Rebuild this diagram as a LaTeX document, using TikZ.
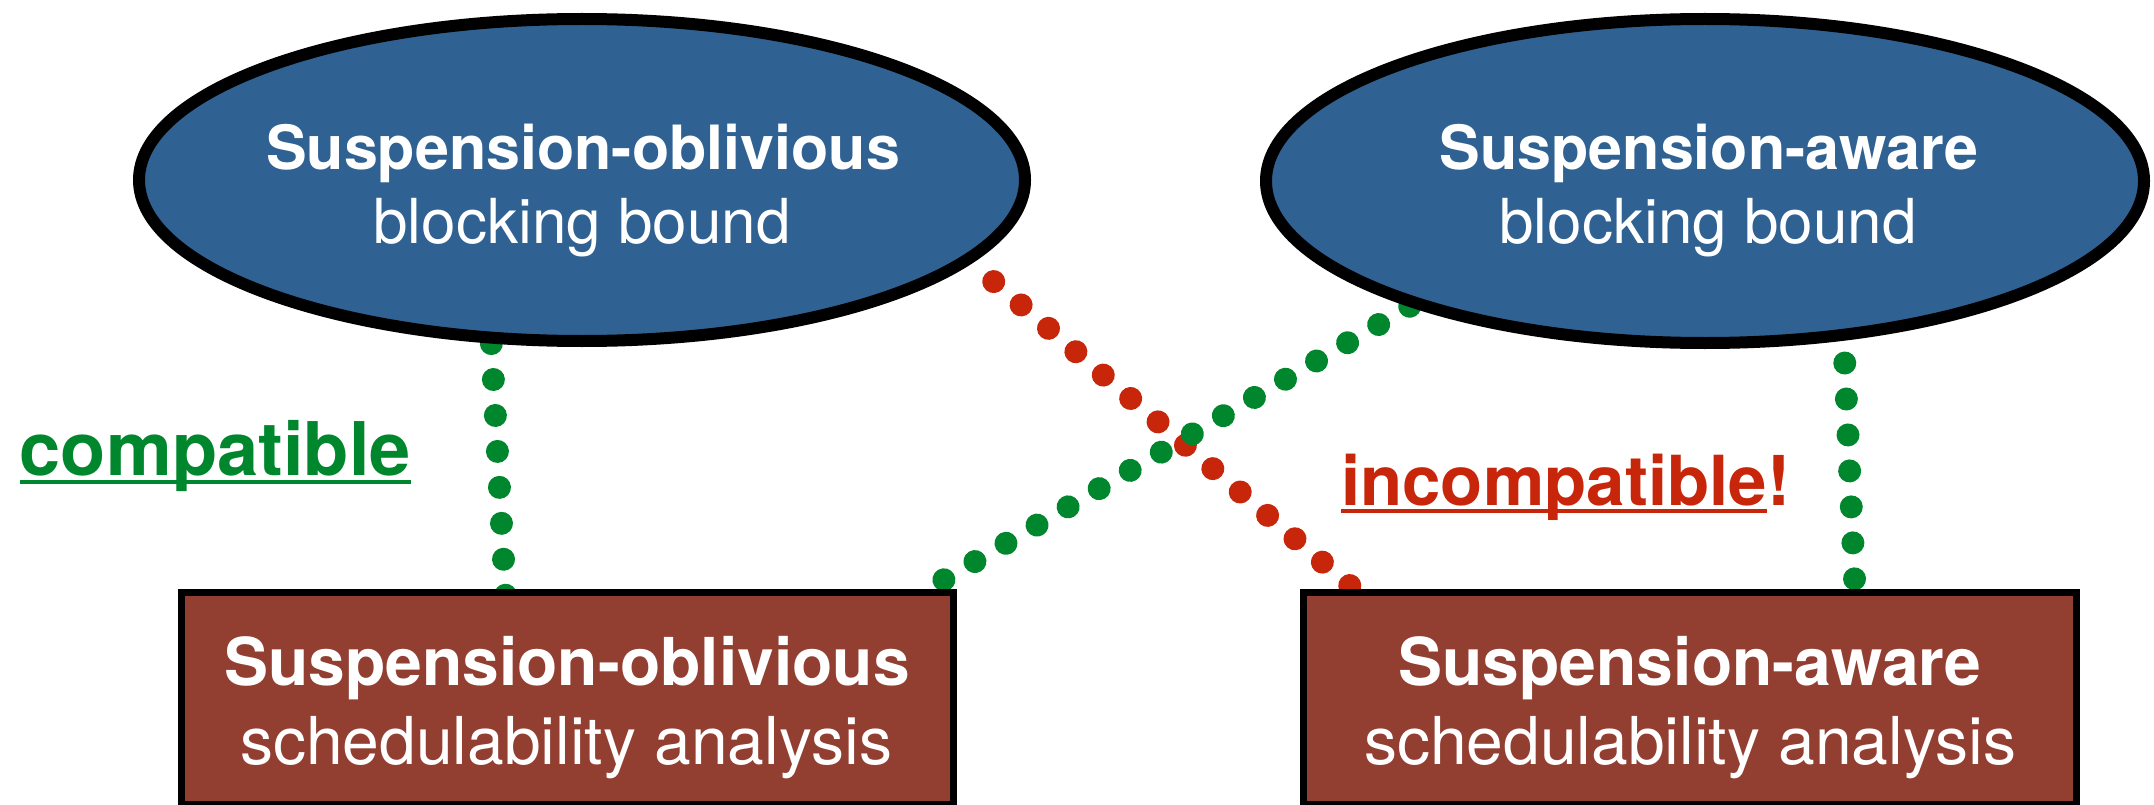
\documentclass[tikz,border=0pt]{standalone}
\usepackage{fontspec}
\setmainfont{TeX Gyre Heros}
\usetikzlibrary{calc,backgrounds,shapes.geometric}
\definecolor{ellblue}{RGB}{47,98,146}
\definecolor{boxred}{RGB}{146,63,50}
\definecolor{okgreen}{RGB}{0,135,45}
\definecolor{badred}{RGB}{200,38,10}
\begin{document}
\begin{tikzpicture}[x=1pt,y=-1pt,
  blob/.style={ellipse,draw=black,line width=12pt,fill=ellblue,inner sep=0pt},
  boxnode/.style={rectangle,draw=black,line width=7pt,fill=boxred,inner sep=0pt,minimum width=772pt,minimum height=212pt},
  headE/.style={anchor=base,inner sep=0pt,text=white,font=\fontsize{61}{70}\selectfont\bfseries},
  subE/.style={anchor=base,inner sep=0pt,text=white,font=\fontsize{62}{70}\selectfont},
  headB/.style={anchor=base,inner sep=0pt,text=white,font=\fontsize{66}{75}\selectfont\bfseries},
  subB/.style={anchor=base,inner sep=0pt,text=white,font=\fontsize{66}{75}\selectfont},
  dotline/.style={line width=23pt,line cap=round,dash pattern=on 0.01pt off 36pt},
  lab/.style={anchor=base west,inner sep=0pt,font=\fontsize{#1}{#1}\selectfont\bfseries},
]
\useasboundingbox (0,0) rectangle (2154,805);
\clip (0,0) rectangle (2154,805);

% shapes
\node[blob,minimum width=886pt,minimum height=322pt] (e1) at (582,180) {};
\node[blob,minimum width=878pt,minimum height=324pt] (e2) at (1705,181) {};
\node[boxnode] (b1) at (567.5,698.5) {};
\node[boxnode,minimum width=773pt] (b2) at (1690,698.5) {};

% texts
\node[headE] (e1a) at (583,170) {Suspension-oblivious};
\node[subE]  (e1b) at (582,243) {blocking bound};
\node[headE] (e2a) at (1709,170) {Suspension-aware};
\node[subE]  (e2b) at (1708,243) {blocking bound};
\node[headB] (b1a) at (567,685) {Suspension-oblivious};
\node[subB]  (b1b) at (566,764) {schedulability analysis};
\node[headB] (b2a) at (1690,685) {Suspension-aware};
\node[subB]  (b2b) at (1690,764) {schedulability analysis};

% labels
\node[lab=74,text=okgreen] (compat) at (19.5,475) {compatible};
\draw[okgreen,line width=4pt] ([yshift=-7pt]compat.base west) -- ([yshift=-7pt]compat.base east);
\node[lab=69,text=badred] (incomp) at (1341,505) {incompatible};
\node[lab=69,text=badred] (bang) at (incomp.base east) {!};
\draw[badred,line width=4pt] ([yshift=-6pt]incomp.base west) -- ([yshift=-6pt]incomp.base east);

% dotted connectors (behind the shapes)
\begin{pgfonlayer}{background}
\draw[dotline,okgreen,shorten >=-8pt] (e1.241) -- ($(b1.north west)!0.42!(b1.north east)$);
\draw[dotline,okgreen,dash phase=13.6pt,shorten >=-8pt] (e2.311) -- ($(b2.north west)!0.7115!(b2.north east)$);
\draw[dotline,badred,dash phase=7.2pt] (e1.348) -- ($(b2.north west)!0.069!(b2.north east)$);
\draw[dotline,okgreen,dash phase=17.8pt,shorten >=-6pt] ($(b1.north west)!0.963!(b1.north east)$) -- (e2.203);
\end{pgfonlayer}
\end{tikzpicture}
\end{document}
